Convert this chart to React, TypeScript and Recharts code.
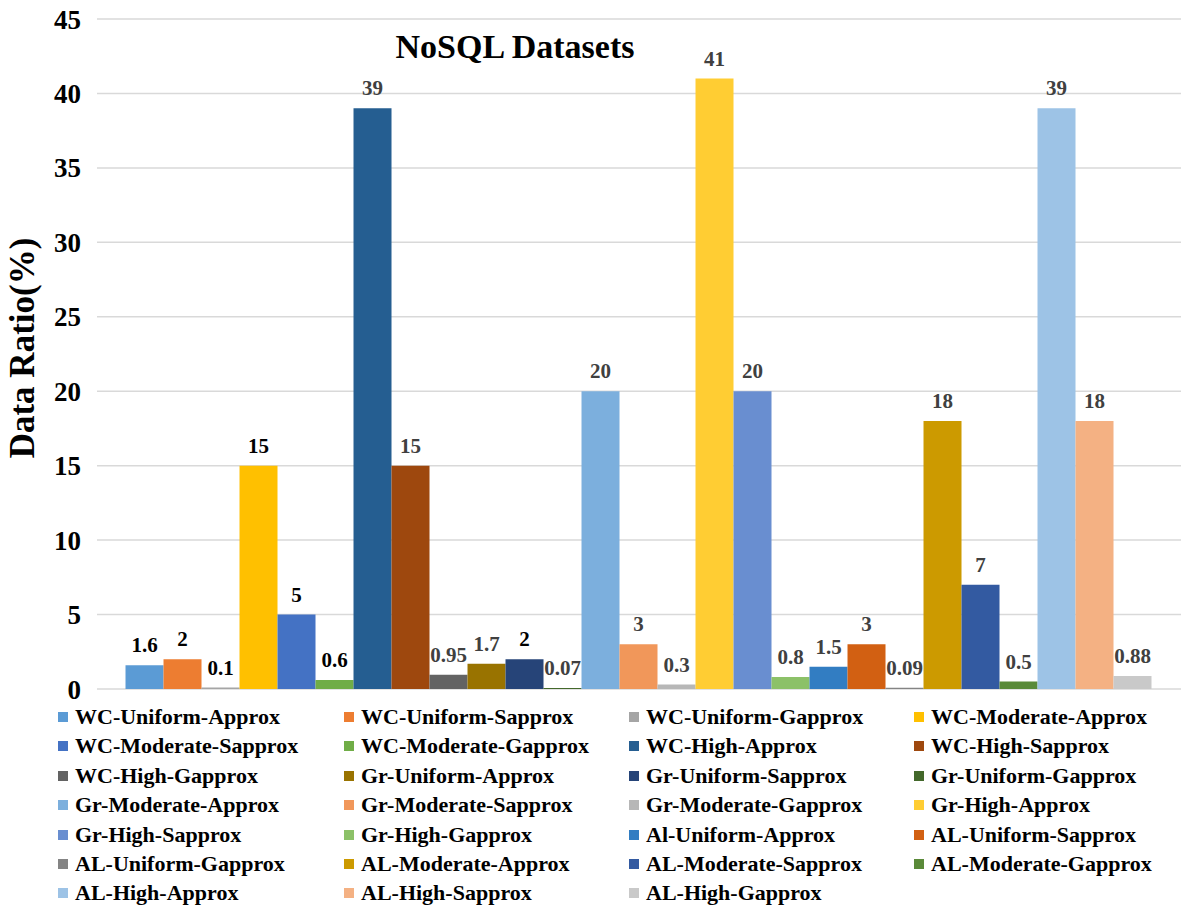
import { BarChart, Bar, XAxis, YAxis, CartesianGrid, LabelList } from 'recharts'

const SERIES_NAMES = [
  'WC-Uniform-Approx', 'WC-Uniform-Sapprox', 'WC-Uniform-Gapprox', 'WC-Moderate-Approx',
  'WC-Moderate-Sapprox', 'WC-Moderate-Gapprox', 'WC-High-Approx', 'WC-High-Sapprox',
  'WC-High-Gapprox', 'Gr-Uniform-Approx', 'Gr-Uniform-Sapprox', 'Gr-Uniform-Gapprox',
  'Gr-Moderate-Approx', 'Gr-Moderate-Sapprox', 'Gr-Moderate-Gapprox', 'Gr-High-Approx',
  'Gr-High-Sapprox', 'Gr-High-Gapprox', 'Al-Uniform-Approx', 'AL-Uniform-Sapprox',
  'AL-Uniform-Gapprox', 'AL-Moderate-Approx', 'AL-Moderate-Sapprox', 'AL-Moderate-Gapprox',
  'AL-High-Approx', 'AL-High-Sapprox', 'AL-High-Gapprox',
]

const VALUES = [1.6, 2, 0.1, 15, 5, 0.6, 39, 15, 0.95, 1.7, 2, 0.07, 20, 3, 0.3, 41, 20, 0.8, 1.5, 3, 0.09, 18, 7, 0.5, 39, 18, 0.88]

const COLORS = [
  '#5B9BD5', '#ED7D31', '#A5A5A5', '#FFC000', '#4472C4', '#70AD47', '#255E91', '#9E480E',
  '#636363', '#997300', '#264478', '#43682B', '#7CAFDD', '#F1975A', '#B7B7B7', '#FFCD33',
  '#698ED0', '#8CC168', '#327DC2', '#D26012', '#848484', '#CC9A00', '#335AA1', '#5A8A39',
  '#9DC3E6', '#F4B183', '#C9C9C9',
]

// first few labels are plain black, the rest dark grey
const LABEL_COLORS = VALUES.map((_, i) => (i < 6 || i === 10 ? '#000000' : '#404040'))

const Y_TICKS = [0, 5, 10, 15, 20, 25, 30, 35, 40, 45]

const FONT = "'Liberation Serif', 'DejaVu Serif', serif"

const row: Record<string, number | string> = { name: 'NoSQL' }
SERIES_NAMES.forEach((n, i) => { row['s' + i] = VALUES[i] })
const chartData = [row]

const COL_LEFT = [58, 344, 629, 914]

function LegendGrid() {
  return (
    <div style={{ position: 'absolute', left: 0, top: 704, width: 1181, height: 203, fontFamily: FONT }}>
      {SERIES_NAMES.map((n, i) => {
        const col = i % 4
        const r = Math.floor(i / 4)
        return (
          <div
            key={n}
            style={{
              position: 'absolute', left: COL_LEFT[col], top: r * 29.4,
              display: 'flex', alignItems: 'center', height: 26,
              fontWeight: 'bold', fontSize: 22, color: '#000', whiteSpace: 'nowrap',
            }}
          >
            <span style={{ width: 10, height: 10, background: COLORS[i], marginRight: 7, display: 'inline-block' }} />
            {n}
          </div>
        )
      })}
    </div>
  )
}

export default function App() {
  return (
    <div style={{ position: 'absolute', left: 0, top: 0, width: 1181, height: 907, background: '#fff', fontFamily: FONT }}>
      <BarChart
        width={1181}
        height={907}
        data={chartData}
        margin={{ top: 19, right: 0, bottom: 218, left: 0 }}
        barCategoryGap="2.63%"
        barGap={0}
      >
        <CartesianGrid vertical={false} stroke="#d9d9d9" strokeWidth={1.5} />
        <XAxis dataKey="name" hide />
        <YAxis
          width={97}
          domain={[0, 45]}
          ticks={Y_TICKS}
          interval={0}
          axisLine={false}
          tickLine={false}
          tickMargin={10}
          tick={{ fill: '#000', fontSize: 27, fontWeight: 'bold', fontFamily: FONT }}
          label={{ value: 'Data Ratio(%)', angle: -90, position: 'center', dx: -27, dy: -6, fill: '#000', fontSize: 35, fontWeight: 'bold', fontFamily: FONT }}
        />
        {SERIES_NAMES.map((n, i) => (
          <Bar key={n} dataKey={'s' + i} name={n} fill={COLORS[i]} isAnimationActive={false}>
            <LabelList
              dataKey={'s' + i}
              position="top"
              offset={13}
              fill={LABEL_COLORS[i]}
              fontSize={21}
              fontWeight="bold"
              fontFamily={FONT}
            />
          </Bar>
        ))}
      </BarChart>
      <div style={{ position: 'absolute', left: 0, width: 1030, top: 28, textAlign: 'center', fontSize: 34, fontWeight: 'bold', color: '#000' }}>
        NoSQL Datasets
      </div>
      <LegendGrid />
    </div>
  )
}
